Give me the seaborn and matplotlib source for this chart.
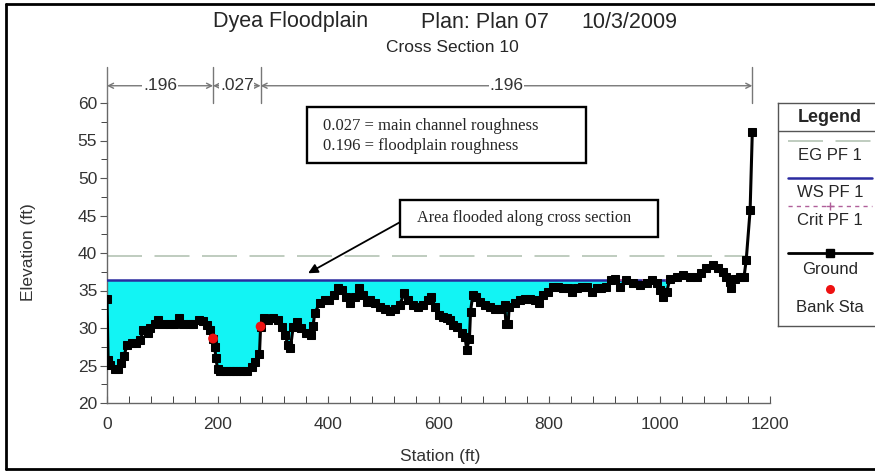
import numpy as np
import seaborn as sns
import matplotlib.pyplot as plt
from matplotlib.lines import Line2D
from matplotlib.patches import Rectangle

# ground profile
station = [0, 2, 5, 14, 20, 26, 31, 36, 45, 52, 60, 66, 75, 78, 87, 93, 102, 114, 122, 130,
           138, 150, 156, 166, 174, 181, 186, 192, 195, 197, 200, 204, 210, 216, 222, 228, 234,
           240, 246, 253, 262, 268, 276, 278, 284, 292, 301, 310, 316, 322, 328, 332, 337, 343,
           352, 361, 369, 373, 376, 385, 394, 402, 410, 419, 425, 433, 440, 449, 457, 464, 470,
           476, 485, 494, 503, 512, 521, 530, 538, 545, 554, 563, 572, 581, 587, 594, 600, 609,
           615, 621, 627, 633, 642, 648, 651, 656, 658, 662, 668, 675, 684, 693, 702, 711, 720,
           722, 726, 728, 738, 747, 757, 766, 775, 782, 790, 799, 808, 817, 826, 835, 841, 850,
           859, 868, 877, 886, 895, 904, 913, 919, 928, 940, 952, 965, 977, 986, 995, 1001, 1007,
           1013, 1019, 1031, 1043, 1055, 1067, 1076, 1085, 1097, 1106, 1115, 1121, 1127, 1130,
           1136, 1146, 1153, 1157, 1164, 1168]
ground = [33.9, 25.7, 25.1, 24.6, 24.5, 25.3, 26.3, 27.7, 28.0, 28.0, 28.4, 29.7, 29.3, 30.0,
          30.6, 31.1, 30.6, 30.5, 30.5, 31.4, 30.5, 30.5, 30.5, 31.1, 31.0, 30.4, 29.7, 28.6,
          27.5, 26.0, 24.6, 24.3, 24.3, 24.3, 24.3, 24.3, 24.3, 24.3, 24.3, 24.3, 24.8, 25.5,
          26.6, 30.2, 31.4, 31.1, 31.4, 31.1, 30.2, 29.1, 27.7, 27.3, 30.2, 30.8, 30.0, 29.3,
          29.1, 30.3, 32.0, 33.3, 33.7, 33.7, 34.4, 35.3, 35.1, 34.2, 33.3, 34.2, 35.3, 34.4,
          33.5, 33.7, 33.3, 32.8, 32.6, 32.3, 32.5, 33.1, 34.7, 33.7, 33.1, 32.8, 33.1, 33.7,
          34.2, 32.8, 31.7, 31.5, 31.3, 31.1, 30.4, 30.2, 29.3, 28.8, 27.1, 28.6, 32.2, 34.4,
          34.2, 33.5, 33.1, 32.8, 32.6, 32.6, 33.1, 30.6, 30.6, 32.8, 33.3, 33.7, 33.9, 33.9,
          33.8, 33.3, 34.4, 34.8, 35.5, 35.5, 35.3, 35.3, 34.8, 35.3, 35.5, 35.5, 34.8, 35.3,
          35.3, 35.5, 36.4, 36.6, 35.5, 36.4, 36.0, 35.7, 36.0, 36.4, 36.0, 35.1, 34.2, 34.8,
          36.6, 36.8, 37.1, 36.8, 36.8, 37.3, 38.0, 38.4, 38.0, 37.5, 36.8, 36.2, 35.3, 36.6,
          36.8, 36.8, 39.1, 45.7, 56.2]

ws_elev = 36.4
ws_extent = [0, 1024]
eg_elev = 39.6
eg_extent = [0, 1157]
crit_segments = [([905, 1025], 36.45), ([1118, 1140], 36.3)]
bank_sta = [192, 278]
bank_elev = [28.6, 30.2]

# Manning's n breaks along the top
n_breaks = [0, 192, 278, 1168]
n_labels = ['.196', '.027', '.196']

sns.set_style('ticks')
plt.rcParams['font.family'] = ['Liberation Sans', 'DejaVu Sans']

W, H = 875, 472
fig = plt.figure(figsize=(W / 100, H / 100), dpi=100)
ax = fig.add_axes([107 / W, 1 - 403 / H, (770 - 107) / W, (403 - 103) / H])

st = np.array(station, dtype=float)
gr = np.array(ground)
ax.fill_between(st, gr, ws_elev, where=gr < ws_elev, interpolate=True,
                color='#12f4f4', lw=0, zorder=1)

sns.lineplot(x=eg_extent, y=[eg_elev] * 2, ax=ax, color='#b4c4b4', lw=1.2,
             linestyle=(0, (21, 7.5)), zorder=2)
sns.lineplot(x=ws_extent, y=[ws_elev] * 2, ax=ax, color='#2b2ba0', lw=1.8, zorder=3)
for xs, el in crit_segments:
    ax.plot(xs, [el] * 2, color='#b0609a', lw=1.2, ls=(0, (4, 3)), zorder=3)

sns.lineplot(x=station, y=ground, ax=ax, color='black', lw=2.2, marker='s', markersize=6,
             markeredgecolor='black', sort=False, estimator=None, zorder=4)
sns.scatterplot(x=bank_sta, y=bank_elev, ax=ax, color='#ee1111', s=50, edgecolor='none',
                zorder=5)

ax.set_xlim(0, 1200)
ax.set_ylim(20, 60)
ax.set_xticks(range(0, 1201, 200))
ax.set_yticks(range(20, 61, 5))
ax.set_xticks(range(0, 1201, 40), minor=True)
ax.set_yticks(np.arange(20, 60.1, 2.5), minor=True)
ax.tick_params(axis='both', labelsize=12.5, colors='#555555', labelcolor='#333333')
ax.tick_params(axis='x', which='both', direction='in', length=5, pad=10)
ax.tick_params(axis='y', which='major', direction='out', length=5, pad=2)
ax.tick_params(axis='y', which='minor', direction='out', length=4)
sns.despine(ax=ax)
for s in ['left', 'bottom']:
    ax.spines[s].set_color('#666666')
    ax.spines[s].set_linewidth(1)
ax.set_xlabel('')
ax.set_ylabel('')

# roughness brackets above the plot
for b in n_breaks:
    ax.plot([b, b], [60, 64.8], color='#777777', lw=1, clip_on=False)
for i, lab in enumerate(n_labels):
    x0, x1 = n_breaks[i], n_breaks[i + 1]
    ax.annotate('', xy=(x0, 62.3), xytext=(x1, 62.3), annotation_clip=False,
                arrowprops=dict(arrowstyle='<->', color='#777777', lw=1,
                                shrinkA=0, shrinkB=0, mutation_scale=9))
    ax.text((x0 + x1) / 2, 62.3, lab, ha='center', va='center', fontsize=12.5,
            color='#333333', clip_on=False,
            bbox=dict(facecolor='white', edgecolor='none', pad=0.5))

# note boxes
ax.add_patch(Rectangle((0.3017, 0.80), 0.4208, 0.1867, transform=ax.transAxes,
                       facecolor='white', edgecolor='black', lw=1.7, zorder=6))
ax.text(0.326, 0.923, '0.027 = main channel roughness', transform=ax.transAxes,
        fontsize=12, family='Liberation Serif', va='center', ha='left', zorder=7)
ax.text(0.326, 0.857, '0.196 = floodplain roughness', transform=ax.transAxes,
        fontsize=12, family='Liberation Serif', va='center', ha='left', zorder=7)

ax.add_patch(Rectangle((0.442, 0.553), 0.389, 0.124, transform=ax.transAxes,
                       facecolor='white', edgecolor='black', lw=1.7, zorder=6))
ax.text(0.4676, 0.615, 'Area flooded along cross section', transform=ax.transAxes,
        fontsize=11.7, family='Liberation Serif', va='center', ha='left', zorder=7)
ax.annotate('', xy=(364, 37.3), xytext=(530, 44.1),
            arrowprops=dict(arrowstyle='-|>', color='black', lw=1.3, shrinkA=0, shrinkB=0,
                            mutation_scale=14), zorder=6)

# titles and axis labels
fig.text(291 / W, 1 - 22 / H, 'Dyea Floodplain', ha='center', va='center', fontsize=15.5)
fig.text(485 / W, 1 - 22 / H, 'Plan: Plan 07', ha='center', va='center', fontsize=15.5)
fig.text(629 / W, 1 - 22 / H, '10/3/2009', ha='center', va='center', fontsize=15.5)
fig.text(452 / W, 1 - 47 / H, 'Cross Section 10', ha='center', va='center', fontsize=12.5)
fig.text(28 / W, 1 - 252 / H, 'Elevation (ft)', rotation=90, ha='center', va='center',
         fontsize=12.5, color='#333333')
fig.text(440 / W, 1 - 457 / H, 'Station (ft)', ha='center', va='center', fontsize=12.5,
         color='#333333')

# legend box on the right, drawn in pixel units
lg = fig.add_axes([778 / W, 1 - 326 / H, 106 / W, (326 - 103) / H])
lg.set_xlim(778, 884)
lg.set_ylim(326, 103)
lg.set_xticks([])
lg.set_yticks([])
for s in lg.spines.values():
    s.set_color('#555555')
    s.set_linewidth(1)
cx = 830
lg.text(cx, 117, 'Legend', ha='center', va='center', fontsize=13, fontweight='bold')
lg.plot([778, 884], [131, 131], color='#555555', lw=1)
lg.plot([788, 872], [141, 141], color='#b4c4b4', lw=1.2, ls=(0, (21, 7.5)))
lg.text(cx, 156, 'EG PF 1', ha='center', va='center', fontsize=12)
lg.plot([788, 872], [178, 178], color='#2b2ba0', lw=1.8)
lg.text(cx, 192, 'WS PF 1', ha='center', va='center', fontsize=12)
lg.plot([788, 872], [206, 206], color='#b0609a', lw=1, ls=(0, (3, 3)))
lg.plot([cx], [206], marker='+', color='#b0609a', markersize=6)
lg.text(cx, 220, 'Crit PF 1', ha='center', va='center', fontsize=12)
lg.plot([788, 872], [253, 253], color='black', lw=2)
lg.plot([cx], [253], marker='s', color='black', markersize=6)
lg.text(cx, 269, 'Ground', ha='center', va='center', fontsize=12)
lg.plot([cx], [289], marker='o', color='#ee1111', markersize=6.5, markeredgecolor='none')
lg.text(cx, 307, 'Bank Sta', ha='center', va='center', fontsize=12)

# black frame around the picture
frame = dict(color='black', lw=2, transform=fig.transFigure)
fig.add_artist(Line2D([6 / W, 1], [1 - 4 / H, 1 - 4 / H], **frame))
fig.add_artist(Line2D([6 / W, 6 / W], [1 - 4 / H, 1 - 469 / H], **frame))
fig.add_artist(Line2D([6 / W, 1], [1 - 469 / H, 1 - 469 / H], **frame))

fig.savefig('out.png', dpi=100)
